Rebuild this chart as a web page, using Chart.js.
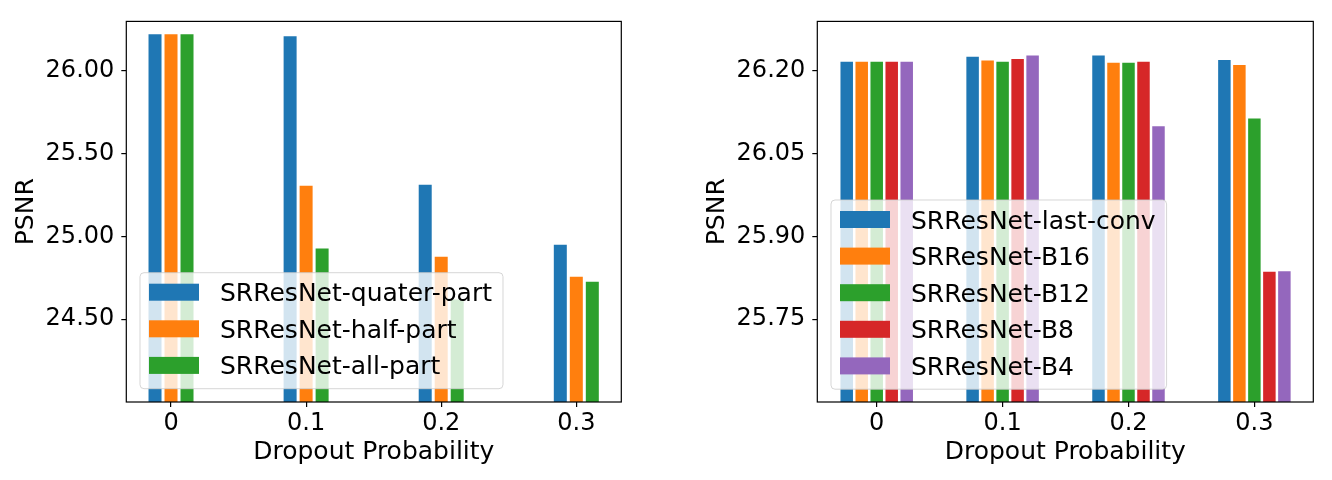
<!DOCTYPE html>
<html>
<head>
<meta charset="utf-8">
<script src="https://cdn.jsdelivr.net/npm/chart.js@4.4.0/dist/chart.umd.min.js"></script>
<style>
  html, body { margin: 0; padding: 0; background: #fff; }
  #wrap { position: relative; width: 1332px; height: 480px; }
  canvas { position: absolute; top: 0; }
  #leftChart { left: 0; }
  #rightChart { left: 666px; }
</style>
</head>
<body>
<div id="wrap">
  <canvas id="leftChart" width="666" height="480"></canvas>
  <canvas id="rightChart" width="666" height="480"></canvas>
</div>
<script>
// x positions and tick labels (shared)
const xTickVals = [0, 1, 2, 3];
const xTickLabels = ["0", "0.1", "0.2", "0.3"];

// left chart
const leftLabels = ["SRResNet-quater-part", "SRResNet-half-part", "SRResNet-all-part"];
const leftQuater = [26.223, 26.211, 25.313, 24.951];
const leftHalf = [26.223, 25.307, 24.878, 24.757];
const leftAll = [26.223, 24.928, 24.620, 24.727];
const leftYTicks = [24.5, 25.0, 25.5, 26.0];
const leftYTickLabels = ["24.50", "25.00", "25.50", "26.00"];

// right chart
const rightLabels = ["SRResNet-last-conv", "SRResNet-B16", "SRResNet-B12", "SRResNet-B8", "SRResNet-B4"];
const rightLastConv = [26.217, 26.226, 26.228, 26.220];
const rightB16 = [26.217, 26.219, 26.215, 26.211];
const rightB12 = [26.217, 26.217, 26.215, 26.114];
const rightB8 = [26.217, 26.222, 26.217, 25.836];
const rightB4 = [26.217, 26.228, 26.100, 25.837];
const rightYTicks = [25.75, 25.90, 26.05, 26.20];
const rightYTickLabels = ["25.75", "25.90", "26.05", "26.20"];

const colors = ["#1f77b4", "#ff7f0e", "#2ca02c", "#d62728", "#9467bd"];
const fam = "'DejaVu Sans', sans-serif";
const tickFont = { family: fam, size: 24 };
const titleFont = { family: fam, size: 25 };
const legendSize = 25;

// black box round the plot area
const framePlugin = {
  id: "frame",
  afterDatasetsDraw(chart) {
    const { ctx, chartArea: a } = chart;
    ctx.save();
    ctx.strokeStyle = "#000";
    ctx.lineWidth = 1.2;
    ctx.strokeRect(a.left, a.top, a.right - a.left, a.bottom - a.top);
    ctx.restore();
  }
};

// matplotlib-like legend drawn over the bars
const boxLegendPlugin = {
  id: "boxLegend",
  afterDatasetsDraw(chart, args, opts) {
    const ctx = chart.ctx;
    const sets = chart.data.datasets;
    const n = sets.length;
    const rowGap = 36.6;
    const firstRow = opts.top + 19.5;
    const bottom = firstRow + (n - 1) * rowGap + 23.3;
    ctx.save();
    ctx.font = legendSize + "px " + fam;
    let maxW = 0;
    sets.forEach((ds) => { maxW = Math.max(maxW, ctx.measureText(ds.label).width); });
    const left = opts.left;
    const right = left + 80 + maxW + 11;
    ctx.beginPath();
    if (ctx.roundRect) ctx.roundRect(left, opts.top, right - left, bottom - opts.top, 4);
    else ctx.rect(left, opts.top, right - left, bottom - opts.top);
    ctx.fillStyle = "rgba(255,255,255,0.8)";
    ctx.fill();
    ctx.strokeStyle = "rgba(204,204,204,0.8)";
    ctx.lineWidth = 1;
    ctx.stroke();
    sets.forEach((ds, i) => {
      const cy = firstRow + i * rowGap;
      ctx.fillStyle = ds.backgroundColor;
      ctx.fillRect(left + 9, cy - 8.5, 50, 17);
      ctx.fillStyle = "#000";
      ctx.textBaseline = "alphabetic";
      ctx.fillText(ds.label, left + 80, cy + 9);
    });
    ctx.restore();
  }
};

function makeChart(el, labels, series, yMin, yMax, yTicks, yTickLabels, setup) {
  const datasets = series.map((arr, i) => ({
    label: labels[i],
    data: xTickVals.map((x, j) => ({ x: x, y: arr[j] })),
    backgroundColor: colors[i],
    borderWidth: 0,
    categoryPercentage: setup.catPct,
    barPercentage: setup.barPct
  }));
  const axisGrid = { drawOnChartArea: false, drawTicks: true, tickLength: 5, color: "#000", lineWidth: 1.2, offset: false };
  return new Chart(document.getElementById(el), {
    type: "bar",
    data: { datasets: datasets },
    plugins: [boxLegendPlugin, framePlugin],
    options: {
      responsive: false,
      animation: false,
      events: [],
      layout: { padding: { left: 0, top: 18.3, right: setup.padRight, bottom: 0 } },
      plugins: {
        legend: { display: false },
        tooltip: { enabled: false },
        boxLegend: setup.legend
      },
      scales: {
        x: {
          type: "linear",
          min: setup.xMin,
          max: setup.xMax,
          offset: false,
          afterBuildTicks: (s) => { s.ticks = xTickVals.map((v) => ({ value: v })); },
          afterFit: (s) => { s.height = 78; },
          grid: axisGrid,
          border: { display: false },
          ticks: {
            callback: (v, i) => xTickLabels[i],
            font: tickFont, color: "#000", padding: 2, maxRotation: 0, autoSkip: false
          },
          title: { display: true, text: "Dropout Probability", font: titleFont, color: "#000", padding: { top: 0, bottom: 13 } }
        },
        y: {
          min: yMin,
          max: yMax,
          afterBuildTicks: (s) => { s.ticks = yTicks.map((v) => ({ value: v })); },
          afterFit: (s) => { s.width = setup.yWidth; },
          grid: axisGrid,
          border: { display: false },
          ticks: { callback: (v, i) => yTickLabels[i], font: tickFont, color: "#000", padding: 7 },
          title: { display: true, text: "PSNR", font: titleFont, color: "#000", padding: { top: setup.yTitlePad, bottom: 0 } }
        }
      }
    }
  });
}

makeChart("leftChart", leftLabels, [leftQuater, leftHalf, leftAll], 24.0, 26.3, leftYTicks, leftYTickLabels, {
  catPct: 0.3553, barPct: 0.8125, xMin: -0.331, xMax: 3.333,
  padRight: 44.7, yWidth: 126.3, yTitlePad: 11.5,
  legend: { left: 140, top: 272.7 }
});

makeChart("rightChart", rightLabels, [rightLastConv, rightB16, rightB12, rightB8, rightB4], 25.6, 26.29, rightYTicks, rightYTickLabels, {
  catPct: 0.5957, barPct: 0.833, xMin: -0.472, xMax: 3.468,
  padRight: 18.7, yWidth: 151.3, yTitlePad: 36.5,
  legend: { left: 165, top: 200 }
});
</script>
</body>
</html>
